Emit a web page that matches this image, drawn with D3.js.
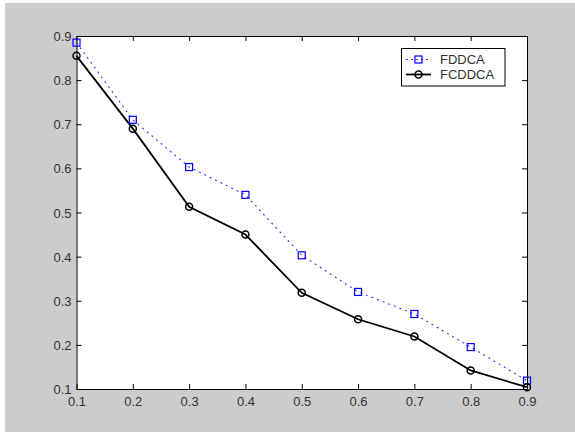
<!DOCTYPE html>
<html><head><meta charset="utf-8">
<script src="https://cdn.jsdelivr.net/npm/d3@7"></script>
<style>body{margin:0;background:#fff}svg{display:block}</style>
</head><body>
<svg id="c" width="575" height="432"></svg>
<script>
const xValues = [0.1,0.2,0.3,0.4,0.5,0.6,0.7,0.8,0.9];
const fddca = [0.885,0.71,0.603,0.540,0.403,0.320,0.270,0.195,0.119];
const fcddca = [0.855,0.69,0.513,0.450,0.318,0.258,0.219,0.142,0.104];
const xTicks = [0.1,0.2,0.3,0.4,0.5,0.6,0.7,0.8,0.9];
const yTicks = [0.1,0.2,0.3,0.4,0.5,0.6,0.7,0.8,0.9];
const seriesNames = ["FDDCA","FCDDCA"];

const svg = d3.select("#c");
svg.append("rect").attr("x",5).attr("y",3).attr("width",570).attr("height",429).attr("fill","#cccccc");
const L=76.5,R=527,T=36,B=389;
svg.append("rect").attr("x",L).attr("y",T).attr("width",R-L).attr("height",B-T).attr("fill","#fff");
const x = d3.scaleLinear().domain([0.1,0.9]).range([L,R]);
const y = d3.scaleLinear().domain([0.1,0.9]).range([B,T]);
const font = "Liberation Sans, Arial, sans-serif";
const fmt = d3.format(".1f");

const ax = svg.append("g").attr("transform",`translate(0,${B})`)
  .call(d3.axisBottom(x).tickValues(xTicks).tickFormat(fmt).tickSizeInner(-5).tickSizeOuter(0).tickPadding(8));
const axT = svg.append("g").attr("transform",`translate(0,${T})`)
  .call(d3.axisTop(x).tickValues(xTicks).tickFormat("").tickSizeInner(-5).tickSizeOuter(0));
const ay = svg.append("g").attr("transform",`translate(${L},0)`)
  .call(d3.axisLeft(y).tickValues(yTicks).tickFormat(fmt).tickSizeInner(-5).tickSizeOuter(0).tickPadding(5));
const ayR = svg.append("g").attr("transform",`translate(${R},0)`)
  .call(d3.axisRight(y).tickValues(yTicks).tickFormat("").tickSizeInner(-5).tickSizeOuter(0));
[ax,axT,ay,ayR].forEach(g=>{
  g.select(".domain").attr("stroke","#000").attr("stroke-width",1);
  g.selectAll(".tick line").attr("stroke","#000");
  g.selectAll("text").attr("font-family",font).attr("font-size",13).attr("fill","#333");
});
ay.selectAll("text").attr("dy","0.35em");

const line = d3.line().x((d,i)=>x(xValues[i])).y(d=>y(d));
svg.append("path").datum(fddca).attr("d",line).attr("fill","none")
  .attr("stroke","#0000ff").attr("stroke-width",1.2).attr("stroke-dasharray","2,4").attr("opacity",0.75);
svg.append("path").datum(fcddca).attr("d",line).attr("fill","none")
  .attr("stroke","#000").attr("stroke-width",1.8);
svg.selectAll(".sq").data(fddca).enter().append("rect")
  .attr("x",(d,i)=>x(xValues[i])-3.5).attr("y",d=>y(d)-3.5).attr("width",7).attr("height",7)
  .attr("fill","none").attr("stroke","#0000ff").attr("stroke-width",1.2);
svg.selectAll(".ci").data(fcddca).enter().append("circle")
  .attr("cx",(d,i)=>x(xValues[i])).attr("cy",d=>y(d)).attr("r",3.5)
  .attr("fill","none").attr("stroke","#000").attr("stroke-width",1.5);

// legend
const lg = svg.append("g");
lg.append("rect").attr("x",401.5).attr("y",48.5).attr("width",103.5).attr("height",37.5)
  .attr("fill","#fff").attr("stroke","#000").attr("stroke-width",1);
const ly=[59.5,74.5];
lg.append("line").attr("x1",406).attr("x2",431).attr("y1",ly[0]).attr("y2",ly[0])
  .attr("stroke","#0000ff").attr("stroke-width",1.2).attr("stroke-dasharray","2,3").attr("opacity",0.75);
lg.append("rect").attr("x",418.5-3.5).attr("y",ly[0]-3.5).attr("width",7).attr("height",7)
  .attr("fill","none").attr("stroke","#0000ff").attr("stroke-width",1.2);
lg.append("line").attr("x1",406).attr("x2",431).attr("y1",ly[1]).attr("y2",ly[1])
  .attr("stroke","#000").attr("stroke-width",1.8);
lg.append("circle").attr("cx",418.5).attr("cy",ly[1]).attr("r",3.5)
  .attr("fill","none").attr("stroke","#000").attr("stroke-width",1.5);
seriesNames.forEach((n,i)=>{
  lg.append("text").attr("x",440).attr("y",ly[i]).attr("dy","0.35em").text(n)
    .attr("font-family",font).attr("font-size",13).attr("fill","#333");
});
</script>
</body></html>
